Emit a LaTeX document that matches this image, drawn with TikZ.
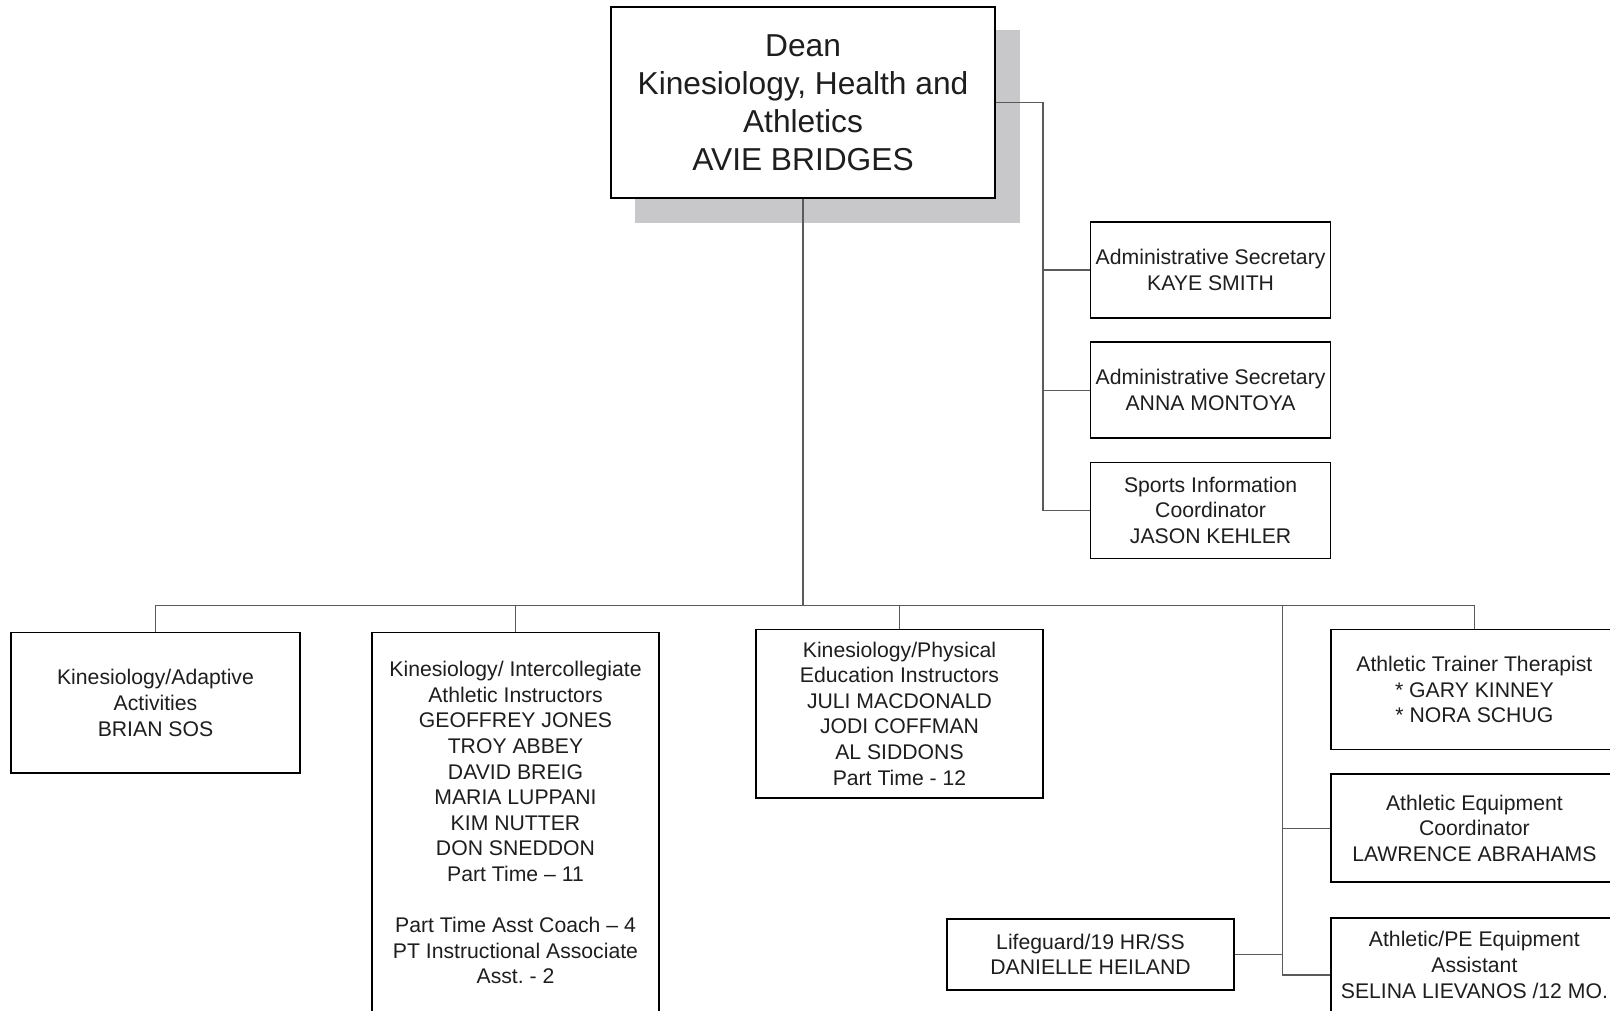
\documentclass[tikz,border=0pt]{standalone}
\usepackage{fontspec}
\setmainfont{Liberation Sans}
\frenchspacing
\definecolor{shadowgray}{RGB}{200,200,202}
\definecolor{linegray}{RGB}{90,90,90}
\definecolor{textdark}{RGB}{30,30,30}
\begin{document}
\begin{tikzpicture}[x=1pt,y=-1pt,
  box/.style={draw=black, line width=1.6pt, fill=white, align=center, inner sep=0pt,
    text=textdark, font=\fontsize{21.2}{25.6}\selectfont},
  conn/.style={draw=linegray, line width=1.2pt}
]
\useasboundingbox (0,0) rectangle (1610,1011);
\fill[white] (0,0) rectangle (1610,1011);
\clip (0,0) rectangle (1610,1011);

% shadow of dean box
\fill[shadowgray] (634.6,29.8) rectangle (1019.6,222.8);

\node[box, minimum width=384pt, minimum height=191pt,
  font=\fontsize{31.7}{38}\selectfont] (dean) at (803,102.7)
  {Dean\\Kinesiology, Health and\\Athletics\\AVIE BRIDGES};

\node[box, minimum width=240pt, minimum height=96pt] (sec1) at (1210.6,270)
  {Administrative Secretary\\KAYE SMITH};
\node[box, minimum width=240pt, minimum height=96pt] (sec2) at (1210.6,390.2)
  {Administrative Secretary\\ANNA MONTOYA};
\node[box, minimum width=240pt, minimum height=96pt] (sec3) at (1210.6,510.3)
  {Sports Information\\Coordinator\\JASON KEHLER};

\node[box, minimum width=288.5pt, minimum height=140.7pt] (adapt) at (155.5,702.85)
  {Kinesiology/Adaptive\\Activities\\BRIAN SOS};
\node[box, minimum width=287.5pt, minimum height=380.5pt] (intercol) at (515.5,822.75)
  {Kinesiology/ Intercollegiate\\Athletic Instructors\\GEOFFREY JONES\\TROY ABBEY\\DAVID BREIG\\MARIA LUPPANI\\KIM NUTTER\\DON SNEDDON\\Part Time – 11\\[25.6pt]Part Time Asst Coach – 4\\PT Instructional Associate\\Asst. - 2};
\node[box, minimum width=287.5pt, minimum height=168.4pt] (pe) at (899.5,713.6)
  {Kinesiology/Physical\\Education Instructors\\JULI MACDONALD\\JODI COFFMAN\\AL SIDDONS\\Part Time - 12};
\node[box, minimum width=287.5pt, minimum height=70.8pt] (life) at (1090.5,954.4)
  {Lifeguard/19 HR/SS\\DANIELLE HEILAND};
\node[box, minimum width=287.3pt, minimum height=120.2pt] (trainer) at (1474.4,689.5)
  {Athletic Trainer Therapist\\* GARY KINNEY\\* NORA SCHUG};
\node[box, minimum width=287.3pt, minimum height=107.8pt] (equip) at (1474.4,828.1)
  {Athletic Equipment\\Coordinator\\LAWRENCE ABRAHAMS};
\node[box, minimum width=287.3pt, minimum height=94pt] (assist) at (1474.4,965)
  {Athletic/PE Equipment\\Assistant\\SELINA LIEVANOS /12 MO.};

% connectors
\coordinate (rsp) at (1043,102.7);
\coordinate (bus) at (803,605.8);
\coordinate (br) at (1282.5,605.8);

\draw[conn] (dean.east) -- (rsp) |- (sec3.west);
\draw[conn] (sec1.west) -- (sec1.west -| rsp);
\draw[conn] (sec2.west) -- (sec2.west -| rsp);

\draw[conn] (dean.south) -- (bus);
\draw[conn] (adapt.north) |- (bus) -| (trainer.north);
\draw[conn] (intercol.north) -- (intercol.north |- bus);
\draw[conn] (pe.north) -- (pe.north |- bus);
\draw[conn] (br) |- ([yshift=-10pt]assist.west);
\draw[conn] (equip.west) -- (equip.west -| br);
\draw[conn] (life.east) -- (life.east -| br);
\end{tikzpicture}
\end{document}
